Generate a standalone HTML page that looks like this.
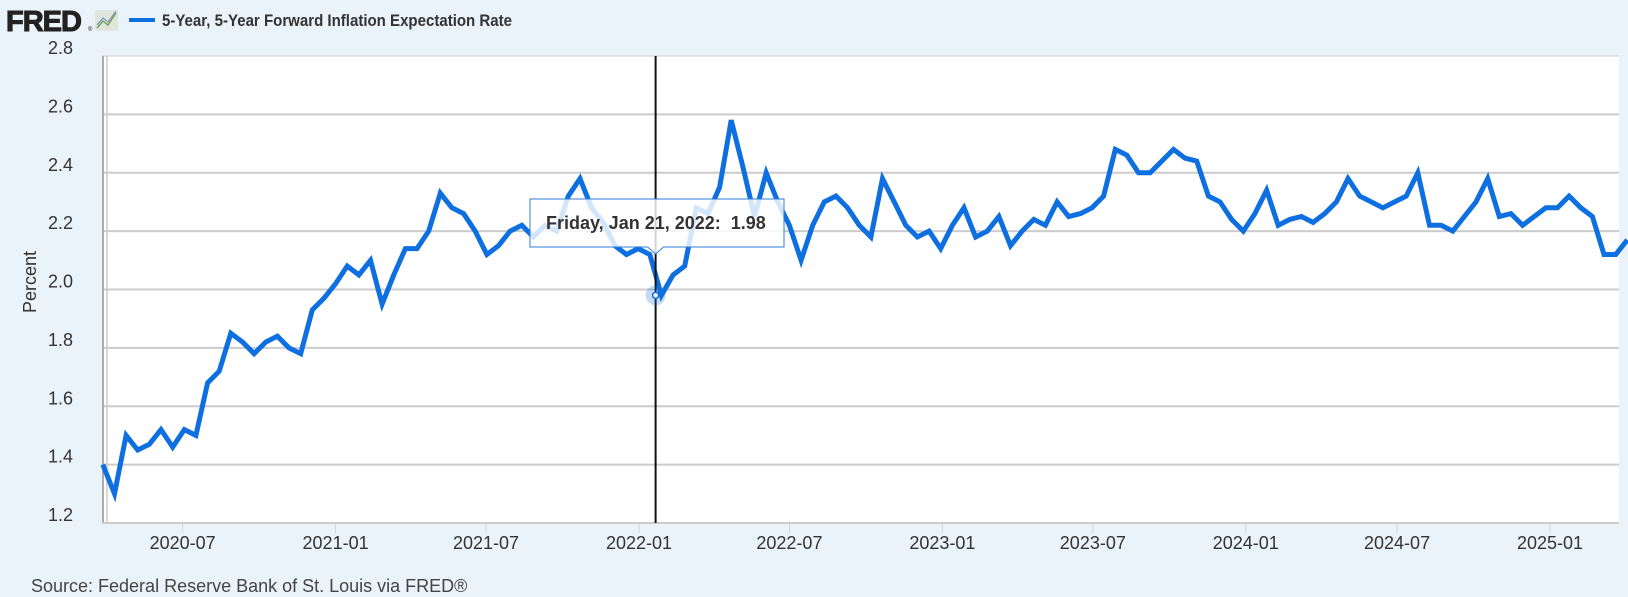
<!DOCTYPE html>
<html><head><meta charset="utf-8"><style>
html,body{margin:0;padding:0;background:#eaf2fa;}
svg{display:block;font-family:"Liberation Sans",sans-serif;}
</style></head><body>
<svg id="chart" width="1628" height="597" viewBox="0 0 1628 597">
  <rect x="0" y="0" width="1628" height="597" fill="#eaf2fa"/>
  <g>
    <text x="6" y="31" font-size="29" font-weight="bold" fill="#222" letter-spacing="-1" stroke="#222" stroke-width="1">FRED</text>
    <text x="88" y="31" font-size="6" fill="#222">®</text>
    <g>
      <rect x="95" y="10" width="23" height="21" fill="#dfe6dd"/>
      <polyline points="97,28 103,21 108,25 116,13" fill="none" stroke="#7aa05a" stroke-width="1.5"/>
      <polyline points="97,25 103,18 108,22 116,11" fill="none" stroke="#6a8fc0" stroke-width="1"/>
    </g>
    <line x1="129" y1="20" x2="155" y2="20" stroke="#0e6fe0" stroke-width="4"/>
    <text x="162" y="26" font-size="17" font-weight="bold" fill="#333" textLength="350" lengthAdjust="spacingAndGlyphs">5-Year, 5-Year Forward Inflation Expectation Rate</text>
  </g>
  <rect x="102" y="56" width="1517" height="467" fill="#fff"/>
  <g id="grid"></g>
  <g id="yaxis"></g>
  <g id="xaxis"></g>
  <line x1="103" y1="56" x2="103" y2="523" stroke="#aaa" stroke-width="2"/>
  <line x1="107" y1="56" x2="107" y2="523" stroke="#ccc" stroke-width="1.5"/>
  <line x1="102" y1="523" x2="1619" y2="523" stroke="#ccc" stroke-width="2"/>
  <g id="series"></g>
  <text x="36" y="282" font-size="18" fill="#333" text-anchor="middle" transform="rotate(-90 36 282)">Percent</text>
  <text x="31" y="592" font-size="18" fill="#444">Source: Federal Reserve Bank of St. Louis via FRED®</text>
  <g id="hover"></g>
</svg>
<script>
const startDate = "2020-03-27";
const stepDays = 14;
const values = [1.40,1.30,1.50,1.45,1.47,1.52,1.46,1.52,1.50,1.68,1.72,1.85,1.82,1.78,1.82,1.84,1.80,1.78,1.93,1.97,
2.02,2.08,2.05,2.10,1.95,2.05,2.14,2.14,2.20,2.33,2.28,2.26,2.20,2.12,2.15,2.20,2.22,2.18,2.22,2.20,
2.32,2.38,2.28,2.23,2.15,2.12,2.14,2.12,1.98,2.05,2.08,2.28,2.26,2.35,2.58,2.42,2.25,2.40,2.30,2.22,
2.10,2.22,2.30,2.32,2.28,2.22,2.18,2.38,2.30,2.22,2.18,2.20,2.14,2.22,2.28,2.18,2.20,2.25,2.15,2.20,
2.24,2.22,2.30,2.25,2.26,2.28,2.32,2.48,2.46,2.40,2.40,2.44,2.48,2.45,2.44,2.32,2.30,2.24,2.20,2.26,
2.34,2.22,2.24,2.25,2.23,2.26,2.30,2.38,2.32,2.30,2.28,2.30,2.32,2.40,2.22,2.22,2.20,2.25,2.30,2.38,
2.25,2.26,2.22,2.25,2.28,2.28,2.32,2.28,2.25,2.12,2.12,2.17];
const yTicks = [1.2,1.4,1.6,1.8,2.0,2.2,2.4,2.6,2.8];
const xTickLabels = ["2020-07","2021-01","2021-07","2022-01","2022-07","2023-01","2023-07","2024-01","2024-07","2025-01"];
const hoverDate = "2022-01-21";
const hoverValue = 1.98;
const hoverLabel = "Friday, Jan 21, 2022:";

const NS = "http://www.w3.org/2000/svg";
const X0 = 102, X1 = 1619, Y0 = 56, Y1 = 523;
const D0 = Date.parse("2020-03-26"), D1 = Date.parse("2025-03-25");
const xScale = d => X0 + (Date.parse(d) - D0) / (D1 - D0) * (X1 - X0);
const yScale = v => Y1 - (v - 1.2) / (2.8 - 1.2) * (Y1 - Y0);
function mk(tag, attrs, parent){const e=document.createElementNS(NS,tag);for(const k in attrs)e.setAttribute(k,attrs[k]);parent.appendChild(e);return e;}

const grid = document.getElementById('grid'), yax = document.getElementById('yaxis');
yTicks.forEach(t => {
  const y = yScale(t);
  if (t > 1.2) {
    const l = mk('line',{x1:X0,x2:X1,y1:y,y2:y,stroke:'#cccccc','stroke-width':t===2.8?1:2},grid);
    
    
  }
  const tx = mk('text',{x:73,y:y-2,'font-size':18,fill:'#333','text-anchor':'end'},yax);
  tx.textContent = t.toFixed(1);
  
  
});
const xax = document.getElementById('xaxis');
xTickLabels.forEach(lbl => {
  const x = xScale(lbl + "-01");
  const tk = mk('line',{x1:x,x2:x,y1:Y1,y2:Y1+10,stroke:'#ccd6eb','stroke-width':1},xax);
  
  
  const tx = mk('text',{x:x,y:549,'font-size':18,fill:'#333','text-anchor':'middle'},xax);
  tx.textContent = lbl;
  
  
});

const dates = values.map((v,i) => new Date(Date.parse(startDate) + i*stepDays*86400000).toISOString().slice(0,10));
const pts = values.map((v,i) => xScale(dates[i]).toFixed(1)+","+yScale(v).toFixed(1)).join(" ");
const line = mk('polyline',{points:pts,fill:'none',stroke:'#0e6fe0','stroke-width':5,'stroke-linejoin':'miter'},document.getElementById('series'));



const hv = document.getElementById('hover');
const hx = xScale(hoverDate), hy = yScale(hoverValue);
const vl = mk('line',{x1:hx,x2:hx,y1:Y0,y2:Y1,stroke:'#111','stroke-width':2},hv);


const halo = mk('circle',{cx:hx,cy:hy,r:10,fill:'#0e6fe0','fill-opacity':0.25},hv);


const mkr = mk('circle',{cx:hx,cy:hy,r:3,fill:'#fff',stroke:'#0e6fe0','stroke-width':1.5},hv);


const tb = mk('path',{d:`M530,199 H784 V247 H${hx+8} L${hx},254 L${hx-8},247 H530 Z`,fill:'#ffffff','fill-opacity':0.82,stroke:'#2f7ed8','stroke-width':1},hv);


const tt = mk('text',{x:546,y:229,'font-size':18,fill:'#333','font-weight':'bold'},hv);
tt.textContent = hoverLabel + "\u00a0\u00a0" + hoverValue.toFixed(2);


</script>
</body></html>
